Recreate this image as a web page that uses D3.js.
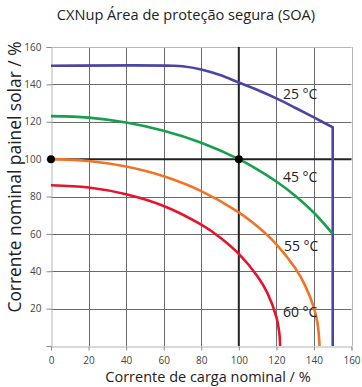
<!DOCTYPE html>
<html>
<head>
<meta charset="utf-8">
<script src="https://cdn.jsdelivr.net/npm/d3@7"></script>
<style>
  body { margin: 0; background: #fff; }
  svg { display: block; }
</style>
</head>
<body>
<script>
// ---- data ----
const title = "CXNup Área de proteção segura (SOA)";
const xLabel = "Corrente de carga nominal / %";
const yLabel = "Corrente nominal painel solar / %";
const xTicks = [0, 20, 40, 60, 80, 100, 120, 140, 160];
const yTicks = [20, 40, 60, 80, 100, 120, 140, 160];

const curveNames = ["25 °C", "45 °C", "55 °C", "60 °C"];
const curveColors = ["#4b46a3", "#16a04c", "#f07424", "#e5142c"];

const x25 = [0, 65, 70, 80, 90, 100, 110, 120, 130, 140, 150, 150];
const y25 = [150, 150, 149.7, 148, 145, 141, 137, 132.5, 127.5, 122.3, 117, 0];

const x45 = [0, 20, 40, 60, 80, 100, 110, 120, 130, 140, 150];
const y45 = [123, 122.2, 119.6, 115.2, 108.8, 100, 94.4, 88, 80.4, 71.3, 60];

const x55 = [0, 20, 40, 60, 80, 100, 110, 120, 130, 135, 140, 142, 143];
const y55 = [100, 99, 96, 90.8, 82.9, 71.5, 63.9, 54.4, 41.7, 33, 20.4, 11.5, 0];

const x60 = [0, 20, 40, 60, 80, 90, 100, 110, 115, 120, 121.5, 122];
const y60 = [86, 84.8, 81.2, 74.9, 64.9, 58.1, 49.3, 37.2, 28.8, 15.5, 7.5, 0];

const curveXs = [x25, x45, x55, x60];
const curveYs = [y25, y45, y55, y60];

const labelX = [123.5, 123.5, 124, 123.5];
const labelY = [132, 88, 51, 15.5];

const dotX = [0, 100];
const dotY = [100, 100];
const refX = 100, refY = 100;

// ---- drawing ----
const W = 362, H = 387;
const svg = d3.select("body").append("svg").attr("width", W).attr("height", H);

const x = d3.scaleLinear().domain([0, 160]).range([51, 351.5]);
const y = d3.scaleLinear().domain([0, 160]).range([346, 47]);

// gridlines
const grid = svg.append("g");
grid.selectAll(".vg").data(xTicks.filter(d => d !== 0 && d !== 160 && d !== refX)).enter()
  .append("line")
  .attr("x1", d => Math.round(x(d)) + 0.5).attr("x2", d => Math.round(x(d)) + 0.5)
  .attr("y1", y(160)).attr("y2", y(0))
  .attr("stroke", "#6a6a6a").attr("stroke-width", 1);
grid.selectAll(".hg").data(yTicks.filter(d => d !== 160 && d !== refY)).enter()
  .append("line")
  .attr("y1", d => Math.round(y(d)) + 0.5).attr("y2", d => Math.round(y(d)) + 0.5)
  .attr("x1", x(0)).attr("x2", x(160))
  .attr("stroke", "#6a6a6a").attr("stroke-width", 1);
// light border top/right
grid.append("line").attr("x1", x(0)).attr("x2", x(160)).attr("y1", Math.round(y(160)) + 0.5).attr("y2", Math.round(y(160)) + 0.5)
  .attr("stroke", "#b5b5b5").attr("stroke-width", 1);
grid.append("line").attr("x1", Math.round(x(160)) + 0.5).attr("x2", Math.round(x(160)) + 0.5).attr("y1", y(160)).attr("y2", y(0))
  .attr("stroke", "#b5b5b5").attr("stroke-width", 1);

// axes
const fontTick = "'Open Sans', sans-serif";
const xAxis = d3.axisBottom(x).tickValues(xTicks).tickSize(4).tickPadding(6);
const yAxis = d3.axisLeft(y).tickValues([0].concat(yTicks)).tickSize(5).tickPadding(5)
  .tickFormat(d => d === 0 ? "" : d);
const gx = svg.append("g").attr("transform", `translate(0,${Math.round(y(0)) + 0.5})`).call(xAxis);
const gy = svg.append("g").attr("transform", `translate(${Math.round(x(0)) + 0.5},0)`).call(yAxis);
[gx, gy].forEach(g => {
  g.select(".domain").attr("stroke", "#b5b5b5");
  g.selectAll(".tick line").attr("stroke", "#8a8a8a");
  g.selectAll(".tick text").attr("fill", "#444").style("font-family", fontTick).style("font-size", "10px");
});

// reference lines at 100
svg.append("line").attr("x1", x(refX)).attr("x2", x(refX)).attr("y1", y(160)).attr("y2", y(0))
  .attr("stroke", "#222").attr("stroke-width", 2);
svg.append("line").attr("x1", x(0)).attr("x2", x(160)).attr("y1", y(refY)).attr("y2", y(refY))
  .attr("stroke", "#222").attr("stroke-width", 2);

// curves
const smooth = d3.line().x(d => x(d[0])).y(d => y(d[1])).curve(d3.curveCatmullRom.alpha(0.5));
curveXs.forEach((xs, i) => {
  const pts = xs.map((v, j) => [v, curveYs[i][j]]);
  const last = pts[pts.length - 1];
  const d = i === 0
    ? smooth(pts.slice(0, -1)) + "L" + x(last[0]) + "," + y(last[1])
    : smooth(pts);
  svg.append("path").attr("d", d)
    .attr("fill", "none").attr("stroke", curveColors[i]).attr("stroke-width", 2.6)
    .attr("stroke-linejoin", "miter");
});

// dots
svg.selectAll(".dot").data(dotX).enter().append("circle")
  .attr("cx", (d, i) => x(d)).attr("cy", (d, i) => y(dotY[i])).attr("r", 4)
  .attr("fill", "#000");

// curve labels
svg.selectAll(".lab").data(curveNames).enter().append("text")
  .attr("x", (d, i) => x(labelX[i])).attr("y", (d, i) => y(labelY[i]))
  .text(d => d)
  .attr("fill", "#222")
  .style("font-family", "'Open Sans', sans-serif").style("font-size", "14px");

// title
svg.append("text").attr("x", 186).attr("y", 20).attr("text-anchor", "middle")
  .text(title).attr("fill", "#222")
  .style("font-family", "'Open Sans', sans-serif").style("font-size", "14.6px");

// axis titles
svg.append("text").attr("x", 208).attr("y", 382).attr("text-anchor", "middle")
  .text(xLabel).attr("fill", "#222")
  .style("font-family", "'Open Sans', sans-serif").style("font-size", "14.5px");
svg.append("text").attr("transform", "translate(21,177) rotate(-90)").attr("text-anchor", "middle")
  .text(yLabel).attr("fill", "#222")
  .style("font-family", "'Open Sans', sans-serif").style("font-size", "17.4px");
</script>
</body>
</html>
